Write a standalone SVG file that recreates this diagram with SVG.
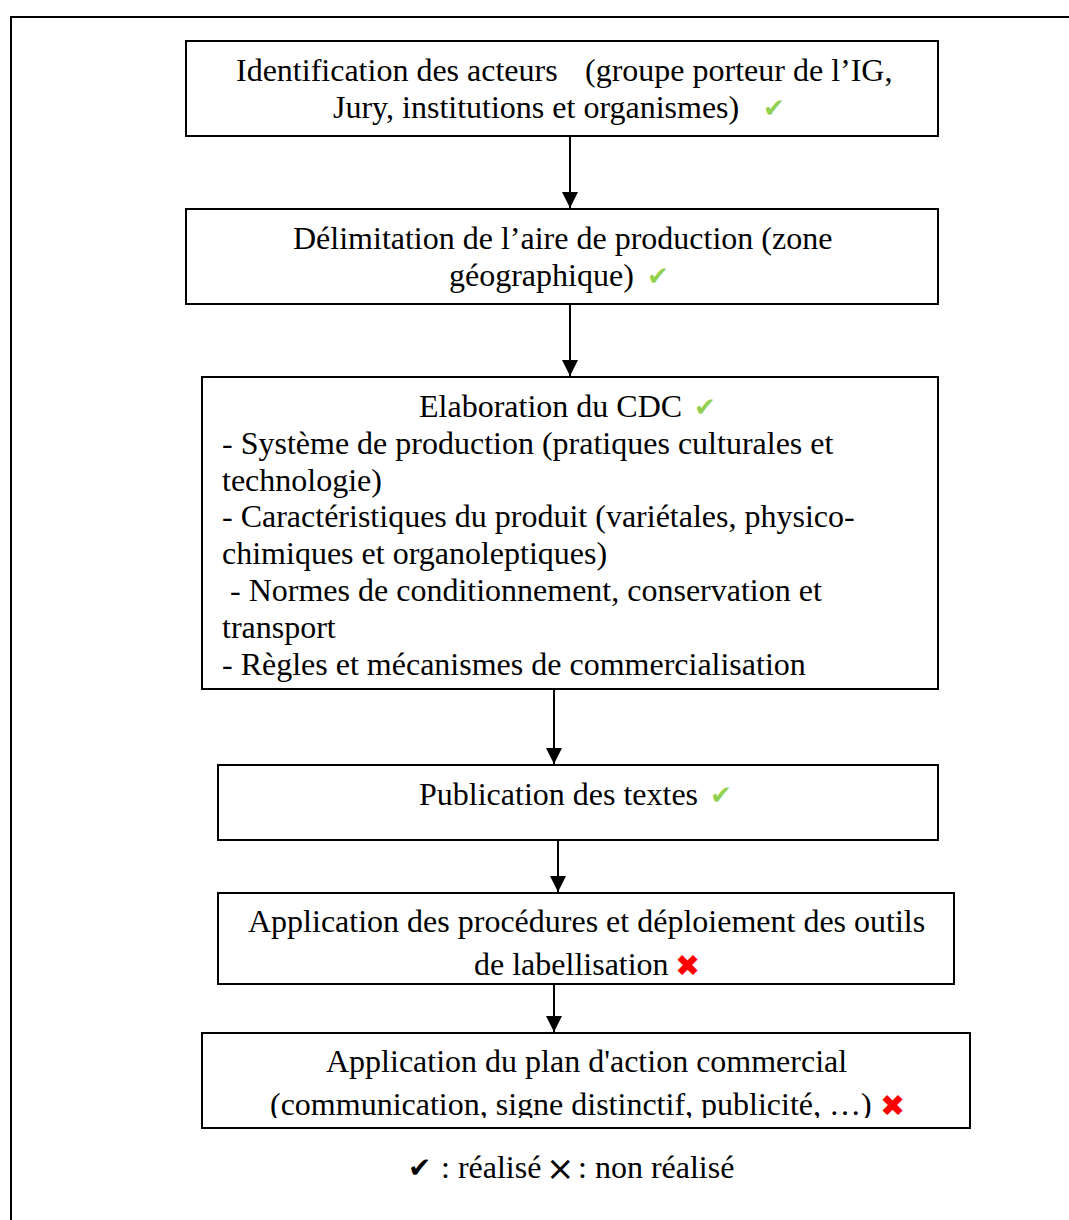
<svg xmlns="http://www.w3.org/2000/svg" width="1069" height="1220" viewBox="0 0 1069 1220">
<style>
.box{fill:#fff;stroke:#000;stroke-width:2}
.t{font-family:"Liberation Serif","Times New Roman",serif;font-size:32px;fill:#000}
.ok{font-family:"DejaVu Sans",sans-serif;font-size:26px;fill:#92D050}
.ko{font-family:"DejaVu Sans",sans-serif;font-size:30px;fill:#FF0000}
.sym{font-family:"DejaVu Sans",sans-serif;fill:#000}
.arr{stroke:#000;stroke-width:2;fill:none}
</style>
<defs>
<marker id="ah" markerUnits="userSpaceOnUse" markerWidth="16" markerHeight="16" refX="16" refY="8" orient="auto">
<path d="M0,0 L16,8 L0,16 z" fill="#000"/>
</marker>
<clipPath id="c6"><rect x="202" y="1033" width="768" height="85"/></clipPath>
</defs>
<rect width="1069" height="1220" fill="#fff"/>
<rect id="frame" x="11" y="17" width="1080" height="1230" fill="none" stroke="#000" stroke-width="2"/>
<g id="connectors">
<line class="arr" x1="570" y1="137" x2="570" y2="208" marker-end="url(#ah)"/>
<line class="arr" x1="570" y1="305" x2="570" y2="376" marker-end="url(#ah)"/>
<line class="arr" x1="554" y1="690" x2="554" y2="764" marker-end="url(#ah)"/>
<line class="arr" x1="558" y1="841" x2="558" y2="892" marker-end="url(#ah)"/>
<line class="arr" x1="554" y1="985" x2="554" y2="1032" marker-end="url(#ah)"/>
</g>
<g id="n1">
<rect class="box" x="186" y="41" width="752" height="95"/>
<text class="t" x="236" y="81">Identification des acteurs</text>
<text class="t" x="585" y="81">(groupe porteur de l’IG,</text>
<text class="t" x="333" y="118">Jury, institutions et organismes)</text>
<text class="ok" x="763" y="117">✔</text>
</g>
<g id="n2">
<rect class="box" x="186" y="209" width="752" height="95"/>
<text class="t" x="293" y="249">Délimitation de l’aire de production (zone</text>
<text class="t" x="449" y="286">géographique)</text>
<text class="ok" x="647" y="285">✔</text>
</g>
<g id="n3">
<rect class="box" x="202" y="377" width="736" height="312"/>
<text class="t" x="419" y="417">Elaboration du CDC</text>
<text class="ok" x="694" y="416">✔</text>
<text class="t" x="222" y="454">- Système de production (pratiques culturales et</text>
<text class="t" x="222" y="491">technologie)</text>
<text class="t" x="222" y="527">- Caractéristiques du produit (variétales, physico-</text>
<text class="t" x="222" y="564">chimiques et organoleptiques)</text>
<text class="t" x="230" y="601">- Normes de conditionnement, conservation et</text>
<text class="t" x="222" y="638">transport</text>
<text class="t" x="222" y="675">- Règles et mécanismes de commercialisation</text>
</g>
<g id="n4">
<rect class="box" x="218" y="765" width="720" height="75"/>
<text class="t" x="419" y="805">Publication des textes</text>
<text class="ok" x="710" y="804">✔</text>
</g>
<g id="n5">
<rect class="box" x="218" y="893" width="736" height="91"/>
<text class="t" x="248" y="932">Application des procédures et déploiement des outils</text>
<text class="t" x="474" y="975">de labellisation</text>
<text class="ko" x="675" y="976">✖</text>
</g>
<g id="n6">
<rect class="box" x="202" y="1033" width="768" height="95"/>
<text class="t" x="326" y="1072">Application du plan d'action commercial</text>
<text class="t" x="270" y="1115" clip-path="url(#c6)">(communication, signe distinctif, publicité, …)</text>
<text class="ko" x="880" y="1116">✖</text>
</g>
<g id="legend">
<text class="sym" x="408" y="1177" font-size="28">✔</text>
<text class="t" x="441" y="1178">: réalisé</text>
<text class="sym" x="546" y="1180" font-size="34">×</text>
<text class="t" x="578" y="1178">: non réalisé</text>
</g>
</svg>
